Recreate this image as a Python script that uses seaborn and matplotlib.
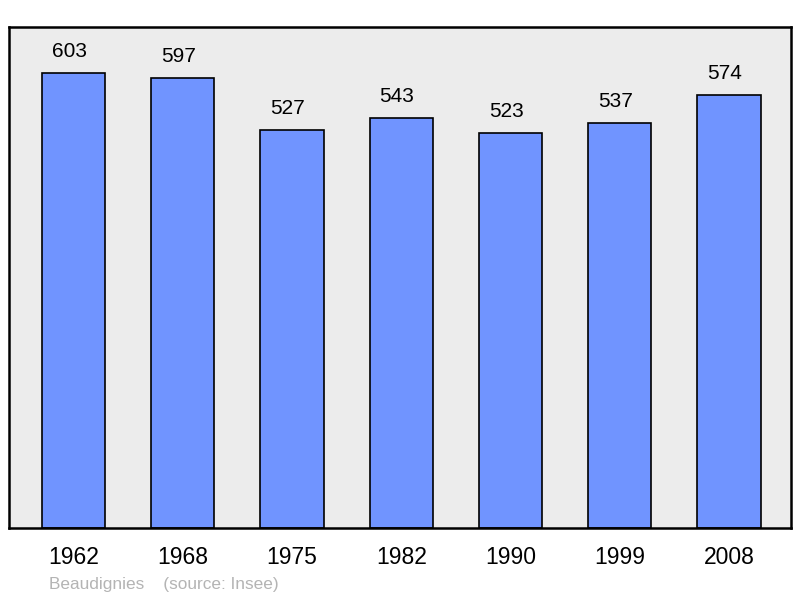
import matplotlib
matplotlib.use("Agg")
import matplotlib.pyplot as plt
import seaborn as sns
import pandas as pd

years = ["1962", "1968", "1975", "1982", "1990", "1999", "2008"]
population = [603, 597, 527, 543, 523, 537, 574]

df = pd.DataFrame({"year": years, "pop": population})

sns.set_style("white")
plt.rcParams["font.family"] = ["Liberation Sans", "DejaVu Sans"]
plt.rcParams["text.color"] = "black"
plt.rcParams["xtick.color"] = "black"

fig = plt.figure(figsize=(8, 5.98), dpi=100)
ax = fig.add_axes([0.01125, 0.1171, 0.9775, 0.8377])
ax.set_facecolor("#ececec")

sns.barplot(data=df, x="year", y="pop", color="#7094ff", saturation=1,
            width=0.58, edgecolor="black", linewidth=1.2, ax=ax)

# value labels sit slightly left of the bar centre, as in the original
for i, v in enumerate(population):
    ax.annotate(str(v), xy=(i, v), xytext=(-3, 15.5), textcoords="offset points",
                ha="center", va="center", fontsize=15, color="black")

ax.set_ylim(0, 664)
ax.set_xlim(-0.59, 6.567)
ax.set_yticks([])
ax.set_xlabel("")
ax.set_ylabel("")
ax.tick_params(axis="x", length=0, pad=13, labelsize=16.5, labelcolor="black")
for s in ax.spines.values():
    s.set_linewidth(1.8)
    s.set_color("black")

fig.text(49 / 800, 1 - 585 / 598, "Beaudignies    (source: Insee)",
         color="#b4b4b4", fontsize=12.4, ha="left", va="center")

fig.savefig("out.png", dpi=100)
